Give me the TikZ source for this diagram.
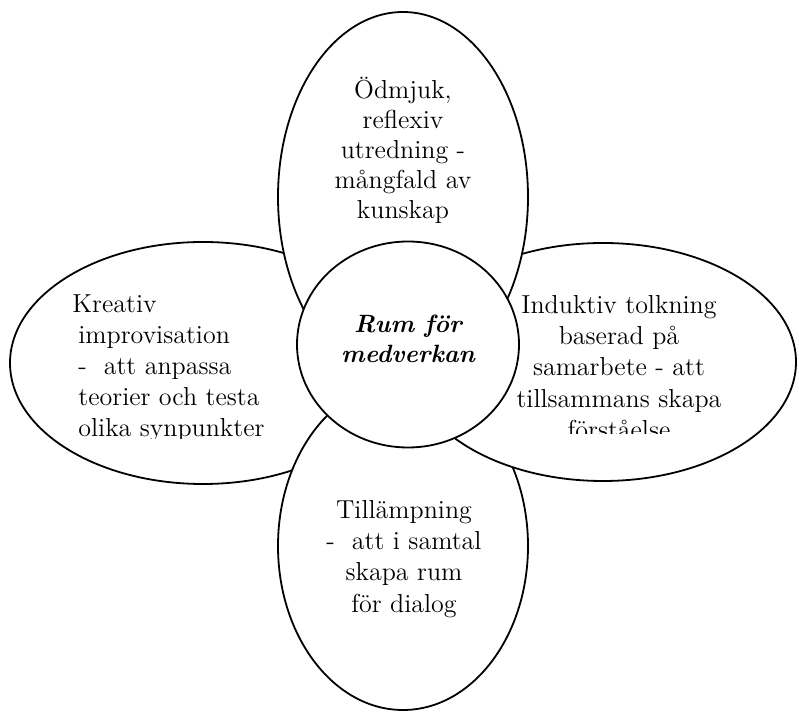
\documentclass[tikz,border=0pt]{standalone}
\usetikzlibrary{positioning}

\tikzset{
  petal/.style={draw, line width=0.9pt, fill=white},
  petaltext/.style={inner sep=0pt, font=\fontsize{13}{15.6}\selectfont},
}

\begin{document}
\begin{tikzpicture}[x=0.5pt, y=-0.5pt]
   \useasboundingbox (0,0) rectangle (799,716);
   % petals, back to front
   \draw [petal] (203,363)   ellipse [x radius=193, y radius=121];
   \draw [petal] (403,546)   ellipse [x radius=125, y radius=164];
   \draw [petal] (603,362)   ellipse [x radius=193, y radius=119];
   \draw [petal] (403,197)   ellipse [x radius=125, y radius=185];
   \draw [petal] (408,344.5) ellipse [x radius=111, y radius=103];

   % texts
   \node [petaltext, anchor=north, align=center,
          font=\fontsize{13}{15}\selectfont] (humble) at (403,77)
      {Ödmjuk,\\reflexiv\\utredning -\\mångfald av\\kunskap};
   \node [petaltext, anchor=north, align=center] (applied) at (404,500)
      {Tillämpning\\-\ \ att i samtal\\skapa rum\\för dialog};
   \node [petaltext, anchor=north, align=center,
          font=\fontsize{12.5}{15}\bfseries\itshape] (space) at (408,315)
      {Rum för\\medverkan};
   \begin{scope}
      \clip (0,0) rectangle (400,439);
      \node [petaltext, anchor=north west, align=left] (creative) at (72,294)
         {Kreativ\\\hspace*{3pt}improvisation\\\hspace*{3pt}-\ \ att anpassa\\
          \hspace*{3pt}teorier och testa\\\hspace*{3pt}olika synpunkter};
   \end{scope}
   \begin{scope}
      \clip (400,0) rectangle (799,434);
      \node [petaltext, anchor=north, align=center] (inductive) at (619,295)
         {Induktiv tolkning\\baserad på\hspace*{15pt}\\samarbete - att\\
          tillsammans skapa\\förståelse};
   \end{scope}
\end{tikzpicture}
\end{document}
